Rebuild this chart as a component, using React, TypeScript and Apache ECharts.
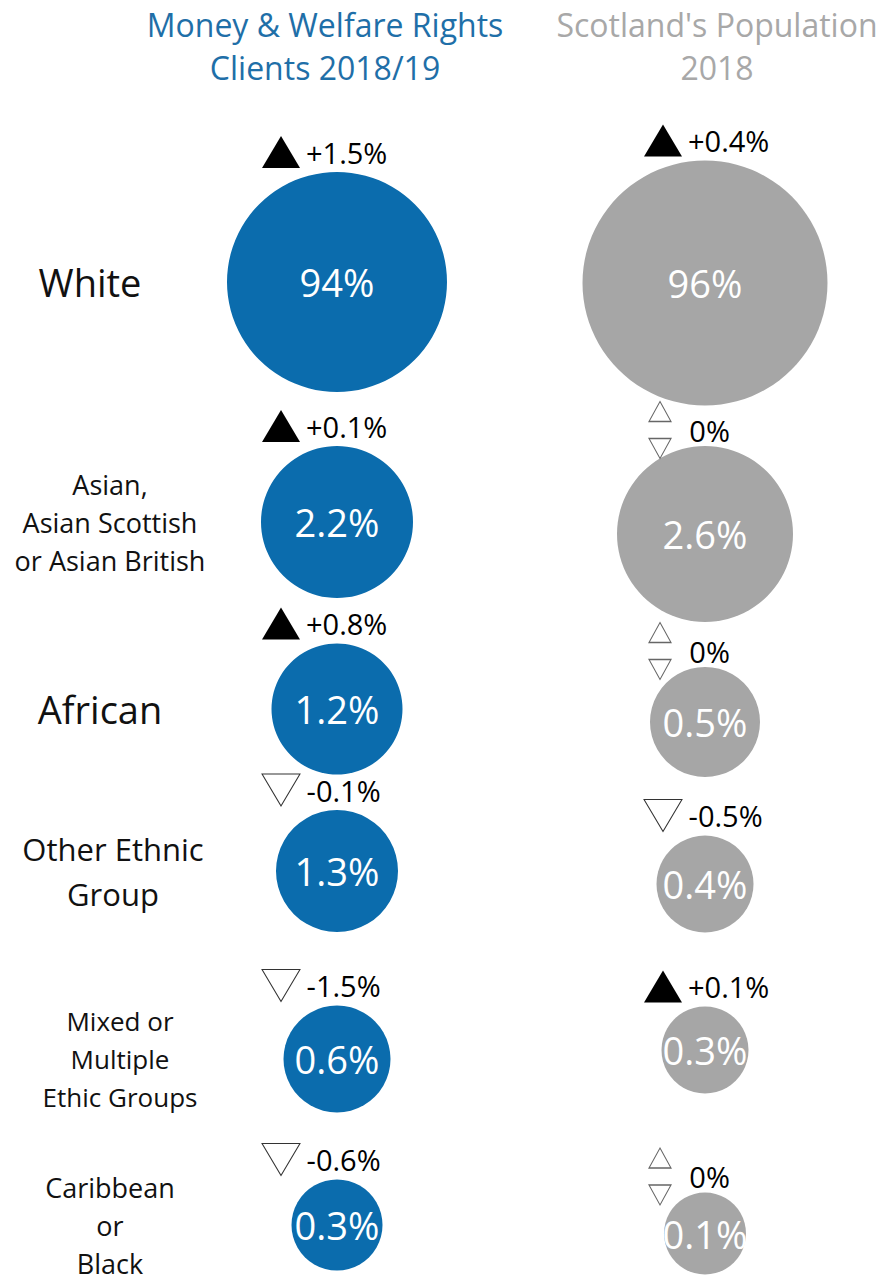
import React, { useEffect, useRef } from 'react';
import * as echarts from 'echarts';

// ---------- data ----------
const groups = [
  'White',
  'Asian,\nAsian Scottish\nor Asian British',
  'African',
  'Other Ethnic\nGroup',
  'Mixed or\nMultiple\nEthic Groups',
  'Caribbean\nor\nBlack',
];
const columns = ['Money & Welfare Rights\nClients 2018/19', "Scotland's Population\n2018"];
const clientShare = [94, 2.2, 1.2, 1.3, 0.6, 0.3];
const clientChange = [1.5, 0.1, 0.8, -0.1, -1.5, -0.6];
const populationShare = [96, 2.6, 0.5, 0.4, 0.3, 0.1];
const populationChange = [0.4, 0, 0, -0.5, 0.1, 0];

// ---------- layout / style ----------
const W = 881;
const H = 1282;
const colX = [337, 705];
const rowY = [
  [282, 522, 709, 871, 1059, 1232],
  [283, 534, 722, 884, 1050, 1235],
];
const bubbleSize = [
  [220, 152, 131, 122, 107, 91],
  [245, 176, 110, 97, 87, 82],
];
const colColor = ['#0b6cad', '#a6a6a6'];
const titleColor = ['#1f6fa8', '#a8a8a8'];
const titleX = [325, 717];
const labelX = [90, 110, 100, 113, 120, 110];
const labelFont = [
  { fontSize: 38, lineHeight: 44 },
  { fontSize: 27, lineHeight: 38 },
  { fontSize: 38, lineHeight: 44 },
  { fontSize: 31, lineHeight: 45 },
  { fontSize: 26, lineHeight: 38 },
  { fontSize: 27, lineHeight: 38 },
];
const FONT = '"Open Sans", "Noto Sans", sans-serif';

const UP = 'triangle';
const DOWN = 'path://M0,0L10,0L5,9Z';
const PAIR = 'path://M11,0L22,20L0,20ZM0,37L22,37L11,57Z';

function fmtChange(v: number) {
  if (v > 0) return `+${v}%`;
  if (v < 0) return `${v}%`;
  return '0%';
}

export default function App() {
  const ref = useRef<HTMLDivElement>(null);

  useEffect(() => {
    if (!ref.current) return;
    const chart = echarts.init(ref.current, null, { renderer: 'svg' });

    const shares = [clientShare, populationShare];
    const changes = [clientChange, populationChange];

    const grid: any[] = [];
    const xAxis: any[] = [];
    const yAxis: any[] = [];
    const series: any[] = [];

    let idx = 0;
    for (let c = 0; c < 2; c++) {
      for (let r = 0; r < groups.length; r++) {
        const left = colX[c] - 100;
        grid.push({ left, width: 200, top: rowY[c][r] - 50, height: 100 });
        xAxis.push({
          gridIndex: idx,
          type: 'category',
          data: [columns[c]],
          show: false,
        });
        yAxis.push({
          gridIndex: idx,
          type: 'category',
          data: [groups[r]],
          show: c === 0,
          axisLine: { show: false },
          axisTick: { show: false },
          splitLine: { show: false },
          axisLabel: {
            margin: left - labelX[r],
            align: 'center',
            color: '#111',
            fontFamily: FONT,
            fontSize: labelFont[r].fontSize,
            lineHeight: labelFont[r].lineHeight,
          },
        });

        const d = bubbleSize[c][r];
        const share = shares[c][r];
        const change = changes[c][r];

        series.push({
          type: 'scatter',
          xAxisIndex: idx,
          yAxisIndex: idx,
          silent: true,
          symbol: 'circle',
          symbolSize: d,
          itemStyle: { color: colColor[c], opacity: 1 },
          label: {
            show: true,
            position: 'inside',
            formatter: () => `${share}%`,
            color: '#ffffff',
            fontFamily: FONT,
            fontSize: 38,
          },
          data: [[columns[c], groups[r]]],
        });

        let symbol = UP;
        let size: number[] = [38, 32];
        let dx = c === 0 ? -56 : -42;
        let dy = -(d / 2 + 20);
        let itemStyle: any = { color: '#000000', borderWidth: 0, opacity: 1 };
        let distance = 6;
        if (change < 0) {
          symbol = DOWN;
          itemStyle = { color: '#ffffff', borderColor: '#333', borderWidth: 1, opacity: 1 };
        } else if (change === 0) {
          symbol = PAIR;
          size = [22, 57];
          dx = -45;
          dy = -(d / 2 + 16);
          itemStyle = { color: '#ffffff', borderColor: '#666', borderWidth: 1, opacity: 1 };
          distance = 18;
        }

        series.push({
          type: 'scatter',
          xAxisIndex: idx,
          yAxisIndex: idx,
          silent: true,
          symbol,
          symbolSize: size,
          symbolOffset: [dx, dy],
          itemStyle,
          label: {
            show: true,
            position: 'right',
            distance,
            formatter: () => fmtChange(change),
            color: '#000000',
            fontFamily: FONT,
            fontSize: 29,
          },
          data: [[columns[c], groups[r]]],
        });
        idx++;
      }
    }

    const graphic = columns.map((t, c) => ({
      type: 'text',
      x: titleX[c],
      y: 3,
      silent: true,
      style: {
        text: t,
        fill: titleColor[c],
        font: `32px ${FONT}`,
        lineHeight: 43,
        textAlign: 'center',
        textVerticalAlign: 'top',
      },
    }));

    chart.setOption({
      animation: false,
      backgroundColor: '#ffffff',
      grid,
      xAxis,
      yAxis,
      series,
      graphic,
    });

    return () => chart.dispose();
  }, []);

  return (
    <div
      ref={ref}
      style={{ position: 'fixed', left: 0, top: 0, width: W, height: H }}
    />
  );
}
